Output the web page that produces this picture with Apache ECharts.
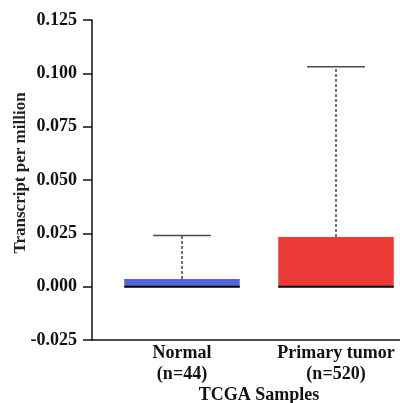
<!DOCTYPE html>
<html>
<head>
<meta charset="utf-8">
<script src="https://cdn.jsdelivr.net/npm/echarts@6/dist/echarts.min.js"></script>
<style>
html,body{margin:0;padding:0;background:#fff;}
#chart{width:400px;height:403px;}
</style>
</head>
<body>
<div id="chart"></div>
<script>
// ---- data ----
const categories = ['Normal\n(n=44)', 'Primary tumor\n(n=520)'];
const whiskerMin = [0, 0];
const q1 = [0, 0];
const median = [0, 0];
const q3 = [0.0036, 0.0233];
const whiskerMax = [0.024, 0.1031];
const yMin = -0.025, yMax = 0.125, yStep = 0.025;

const boxColors = ['#5066e0', '#ec3935'];
const FONT = '"Liberation Serif", "Times New Roman", serif';

const seriesData = categories.map((c, i) => [i, whiskerMin[i], q1[i], median[i], q3[i], whiskerMax[i]]);

const chart = echarts.init(document.getElementById('chart'), null, {renderer: 'canvas'});
chart.setOption({
  animation: false,
  backgroundColor: '#fff',
  grid: [
    {left: 92, width: 308, top: 20, bottom: 63, containLabel: false, outerBoundsMode: 'none'},
    {left: 105, width: 308, top: 20, bottom: 63, containLabel: false, outerBoundsMode: 'none'}
  ],
  xAxis: [
    {gridIndex: 0, type: 'value', min: 0, max: 1,
     axisLine: {show: true, onZero: false, lineStyle: {color: '#111', width: 1.5}},
     axisTick: {show: false}, axisLabel: {show: false}, splitLine: {show: false}},
    {gridIndex: 1, type: 'category', data: categories,
     axisLine: {show: false}, axisTick: {show: false}, splitLine: {show: false},
     axisLabel: {margin: 3, color: '#111', fontFamily: FONT, fontWeight: 'bold', fontSize: 18, lineHeight: 21},
     name: 'TCGA Samples', nameLocation: 'middle', nameGap: 46, nameMoveOverlap: false,
     nameTextStyle: {color: '#111', fontFamily: FONT, fontWeight: 'bold', fontSize: 18}}
  ],
  yAxis: [
    {gridIndex: 0, type: 'value', min: yMin, max: yMax, interval: yStep,
     axisLine: {show: true, onZero: false, lineStyle: {color: '#111', width: 1.5}},
     axisTick: {show: true, length: 9, lineStyle: {color: '#111', width: 1.5}},
     splitLine: {show: false},
     axisLabel: {margin: 15, color: '#111', fontFamily: FONT, fontWeight: 'bold', fontSize: 18,
       formatter: v => v.toFixed(3)},
     name: 'Transcript per million', nameLocation: 'middle', nameGap: 63, nameMoveOverlap: false,
     nameTextStyle: {color: '#222', fontFamily: FONT, fontWeight: 'bold', fontSize: 17, padding: [0, 0, 0, 14]}},
    {gridIndex: 1, type: 'value', min: yMin, max: yMax, interval: yStep, show: false, splitLine: {show: false}}
  ],
  series: [{
    type: 'custom',
    xAxisIndex: 1, yAxisIndex: 1,
    clip: false,
    data: seriesData,
    renderItem: function (params, api) {
      const x = api.value(0);
      const band = api.size([1, 0])[0];
      const bw = band * 0.75, cw = band * 0.375;
      const pMin = api.coord([x, api.value(1)]);
      const pQ1 = api.coord([x, api.value(2)]);
      const pMed = api.coord([x, api.value(3)]);
      const pQ3 = api.coord([x, api.value(4)]);
      const pMax = api.coord([x, api.value(5)]);
      const cx = pMed[0];
      const wStyle = {stroke: '#4a4a4a', lineWidth: 1.5, lineDash: [3, 2]};
      const capStyle = {stroke: '#4a4a4a', lineWidth: 1.5};
      const children = [
        {type: 'line', shape: {x1: cx, y1: pQ3[1], x2: cx, y2: pMax[1]}, style: wStyle},
        {type: 'line', shape: {x1: cx - cw / 2, y1: pMax[1], x2: cx + cw / 2, y2: pMax[1]}, style: capStyle},
        {type: 'line', shape: {x1: cx, y1: pQ1[1], x2: cx, y2: pMin[1]}, style: wStyle},
        {type: 'rect', shape: {x: cx - bw / 2, y: pQ3[1], width: bw, height: pQ1[1] - pQ3[1]},
         style: {fill: boxColors[params.dataIndex]}},
        {type: 'line', shape: {x1: cx - bw / 2, y1: pMed[1], x2: cx + bw / 2, y2: pMed[1]},
         style: {stroke: '#000', lineWidth: 2}}
      ];
      return {type: 'group', children: children};
    }
  }]
});
</script>
</body>
</html>
